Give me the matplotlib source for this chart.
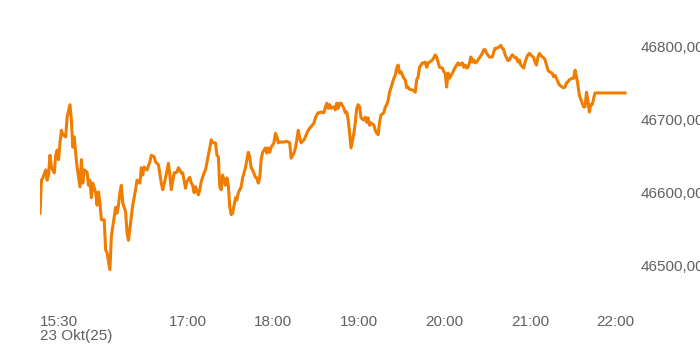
import matplotlib
matplotlib.use("Agg")
import matplotlib.pyplot as plt

plt.rcParams['font.family'] = ['Liberation Sans', 'DejaVu Sans']

# minutes since 15:30 on 23 Okt 2025
minutes = [0, 1, 2, 4, 5, 6, 7, 8, 10, 11, 12, 13, 14, 15, 16, 18, 19, 21, 22, 23,
           24, 25, 26, 28, 29, 30, 31, 33, 34, 35, 36, 37, 39, 40, 41, 42, 43, 45, 46, 47,
           49, 50, 52, 53, 54, 55, 56, 57, 58, 60, 61, 62, 64, 65, 67, 68, 70, 71, 72, 73,
           75, 77, 78, 80, 81, 83, 85, 86, 88, 90, 91, 92, 94, 96, 97, 98, 99, 100, 102, 103,
           105, 106, 107, 108, 109, 111, 112, 113, 115, 116, 118, 119, 120, 121, 123, 124, 125, 126, 127, 128,
           130, 131, 132, 133, 134, 135, 137, 138, 139, 140, 141, 142, 144, 145, 146, 147, 148, 149, 151, 152,
           153, 154, 155, 156, 158, 159, 160, 161, 162, 164, 165, 166, 167, 168, 171, 173, 175, 176, 178, 179,
           180, 181, 182, 183, 185, 186, 187, 188, 189, 190, 192, 193, 194, 195, 196, 197, 199, 200, 201, 202,
           203, 204, 206, 207, 208, 209, 210, 211, 213, 214, 215, 216, 217, 218, 220, 221, 222, 223, 224, 225,
           227, 228, 229, 230, 231, 232, 234, 235, 236, 237, 238, 239, 241, 242, 243, 244, 245, 246, 248, 249,
           250, 251, 252, 253, 255, 256, 257, 258, 259, 261, 262, 263, 264, 265, 266, 268, 269, 270, 271, 272,
           273, 275, 276, 277, 278, 279, 280, 282, 283, 284, 285, 286, 287, 289, 290, 291, 292, 293, 294, 296,
           297, 298, 299, 300, 301, 302, 303, 304, 305, 306, 307, 308, 310, 311, 312, 313, 315, 316, 317, 318,
           319, 320, 322, 323, 324, 325, 326, 327, 328, 329, 330, 331, 333, 334, 335, 336, 337, 339, 340, 341,
           342, 343, 344, 346, 347, 348, 349, 350, 352, 353, 354, 355, 356, 357, 359, 360, 361, 362, 363, 364,
           366, 367, 368, 369, 370, 371, 373, 374, 375, 376, 377, 378, 380, 381, 382, 383, 384, 385, 386, 387,
           389, 410]

values = [46572, 46617, 46620, 46631, 46617, 46624, 46651, 46635, 46627, 46651, 46658, 46645, 46668, 46685, 46679, 46676, 46703, 46720, 46699, 46662,
          46676, 46654, 46635, 46608, 46645, 46613, 46631, 46628, 46610, 46617, 46593, 46613, 46600, 46583, 46601, 46586, 46563, 46563, 46522, 46518,
          46495, 46540, 46567, 46580, 46572, 46583, 46600, 46610, 46586, 46574, 46545, 46535, 46567, 46583, 46604, 46617, 46613, 46634, 46624, 46635,
          46631, 46642, 46651, 46649, 46642, 46638, 46613, 46604, 46620, 46640, 46624, 46604, 46627, 46628, 46634, 46631, 46627, 46627, 46606, 46615,
          46621, 46613, 46610, 46600, 46608, 46597, 46604, 46615, 46627, 46631, 46651, 46661, 46672, 46668, 46668, 46651, 46649, 46608, 46604, 46624,
          46610, 46620, 46610, 46580, 46570, 46572, 46593, 46590, 46600, 46604, 46608, 46620, 46634, 46645, 46655, 46649, 46634, 46631, 46621, 46620,
          46613, 46620, 46645, 46655, 46661, 46654, 46661, 46655, 46662, 46668, 46681, 46676, 46668, 46669, 46669, 46670, 46668, 46647, 46654, 46661,
          46672, 46685, 46675, 46668, 46672, 46676, 46681, 46685, 46688, 46690, 46695, 46702, 46706, 46709, 46709, 46710, 46709, 46717, 46722, 46715,
          46720, 46715, 46717, 46713, 46722, 46715, 46722, 46722, 46715, 46709, 46710, 46699, 46681, 46661, 46681, 46696, 46715, 46720, 46717, 46702,
          46699, 46703, 46696, 46702, 46692, 46695, 46692, 46685, 46681, 46679, 46696, 46706, 46709, 46717, 46720, 46726, 46737, 46743, 46756, 46760,
          46770, 46774, 46763, 46765, 46756, 46754, 46743, 46744, 46741, 46740, 46739, 46737, 46754, 46758, 46771, 46777, 46777, 46778, 46771, 46777,
          46778, 46781, 46784, 46788, 46785, 46778, 46771, 46770, 46765, 46763, 46744, 46763, 46756, 46763, 46767, 46771, 46774, 46777, 46774, 46777,
          46771, 46774, 46770, 46771, 46777, 46785, 46778, 46781, 46777, 46778, 46781, 46784, 46790, 46795, 46795, 46790, 46785, 46785, 46785, 46792,
          46797, 46797, 46799, 46801, 46797, 46795, 46788, 46784, 46780, 46781, 46785, 46788, 46784, 46784, 46778, 46781, 46774, 46770, 46778, 46784,
          46788, 46790, 46788, 46784, 46778, 46774, 46785, 46790, 46785, 46784, 46781, 46774, 46767, 46765, 46763, 46758, 46760, 46756, 46751, 46747,
          46744, 46743, 46744, 46750, 46751, 46754, 46756, 46756, 46767, 46758, 46747, 46733, 46722, 46717, 46717, 46737, 46726, 46710, 46720, 46720,
          46736, 46736]

xtick_minutes = [0, 90, 150, 210, 270, 330, 390]
xtick_labels = ["15:30\n23 Okt(25)", "17:00", "18:00", "19:00", "20:00", "21:00", "22:00"]
ytick_values = [46500, 46600, 46700, 46800]
ytick_labels = ["46500,00", "46600,00", "46700,00", "46800,00"]

fig = plt.figure(figsize=(7, 3.5), dpi=100)
ax = fig.add_axes([40 / 700, 50 / 350, 590 / 700, 280 / 350])
ax.plot(minutes, values, color='#f07d00', linewidth=2.2, solid_joinstyle='round')

ax.set_xlim(0, 413.5)
ax.set_ylim(46453.6, 46835.5)

for s in ax.spines.values():
    s.set_visible(False)

ax.set_xticks(xtick_minutes)
ax.set_xticklabels(xtick_labels, ha='left', va='top', linespacing=0.95)
ax.set_yticks(ytick_values)
ax.set_yticklabels(ytick_labels, ha='left')
ax.yaxis.tick_right()
ax.tick_params(axis='both', length=0, labelsize=11, labelcolor='#606060')
ax.tick_params(axis='x', pad=11)
ax.tick_params(axis='y', pad=8)

fig.savefig('out.png', dpi=100)
